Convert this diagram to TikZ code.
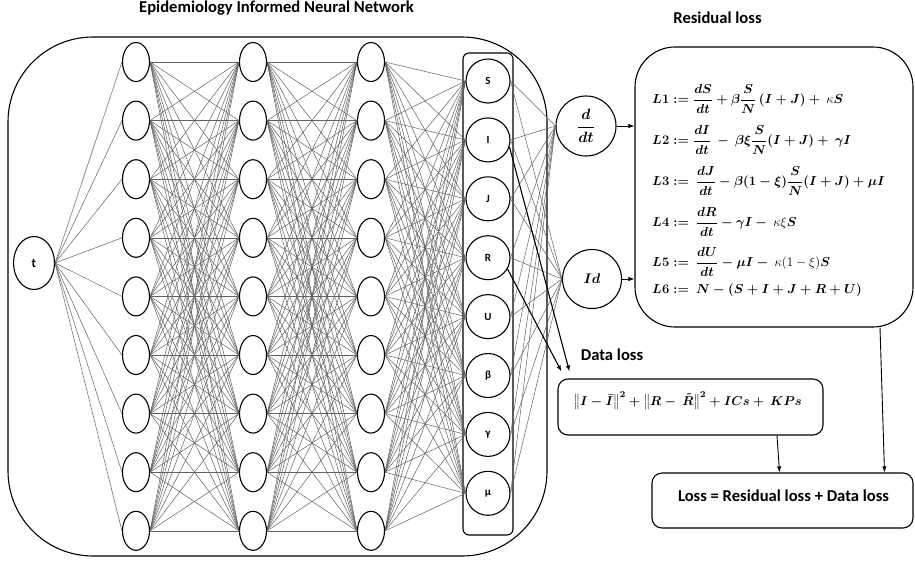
\RequirePackage{fix-cm}
\documentclass[tikz,border=0pt]{standalone}
\usepackage{amsmath,bm}
\usepackage[no-math]{fontspec}
\setmainfont{Carlito}
\usetikzlibrary{arrows.meta,shapes.geometric}
\newcommand{\myk}{\mbox{\unboldmath$\kappa$}}
\newcommand{\myxi}{\mbox{\unboldmath$\xi$}}
\begin{document}
\begin{tikzpicture}[x=1pt,y=-1pt,
 hid/.style={draw, ellipse, line width=1.1pt, minimum width=27pt, minimum height=39pt, inner sep=0pt},
 outn/.style={draw, circle, line width=1.1pt, minimum size=44pt, inner sep=0pt, font=\fontsize{11}{13}\selectfont\bfseries},
 conn/.style={black!62, line width=0.5pt},
 arr/.style={line width=0.9pt, -{Latex[length=6pt,width=4.5pt]}},
 box/.style={draw, line width=1.1pt, inner sep=0pt},
 ttl/.style={anchor=base, inner sep=0pt, font=\fontsize{16.6}{19}\selectfont\bfseries},
 eqn/.style={anchor=west, inner sep=0pt, font=\fontsize{13}{16}\selectfont\boldmath}
]
\useasboundingbox (0,0) rectangle (915,560);
% frames
\node[box, rounded corners=85pt, minimum width=539pt, minimum height=519pt] (net) at (277.5,296.5) {};
\node[box, rounded corners=6pt, minimum width=50pt, minimum height=482pt] (outcol) at (488,294) {};
\node[box, rounded corners=40pt, minimum width=278pt, minimum height=280pt] (res) at (774,187) {};
\node[box, rounded corners=10pt, minimum width=265pt, minimum height=56pt] (data) at (690.5,407) {};
\node[box, rounded corners=10pt, minimum width=261pt, minimum height=55pt] (loss) at (782.5,500.5) {};
% titles
\node[ttl] (tnet) at (276.5,12.7) {Epidemiology Informed Neural Network};
\node[ttl] (tres) at (717.5,23) {Residual loss};
\node[ttl] (tdata) at (612,360) {Data loss};
\node[ttl] (tloss) at (783.5,501) {Loss = Residual loss + Data loss};
% nodes
\node[draw, ellipse, line width=1.1pt, minimum width=41pt, minimum height=53pt, inner sep=0pt, font=\fontsize{13}{15}\selectfont\bfseries] (t) at (34,263) {t};
\foreach \c/\x in {1/136,2/253,3/371}
  \foreach \j in {1,...,9}
    \node[hid] (h\c-\j) at (\x,{62+58.6*(\j-1)}) {};
\foreach \j/\lab in {1/S,2/I,3/J,4/R,5/U,6/β,7/γ,8/μ}
  \node[outn] (o\j) at (488,{81+58.9*(\j-1)}) {\lab};
\node[draw, circle, line width=1.1pt, minimum size=60pt, inner sep=0pt, font=\fontsize{15}{17}\selectfont\boldmath] (dd) at (586,126) {$\dfrac{d}{dt}$};
\node[draw, circle, line width=1.1pt, minimum size=59pt, inner sep=0pt, font=\fontsize{14}{16}\selectfont\boldmath] (id) at (592,279) {$Id$};
% connections
\foreach \i in {1,...,9} \draw[conn] (t.east) -- (h1-\i.west);
\foreach \i in {1,...,9} \foreach \j in {1,...,9} {
  \draw[conn] (h1-\i.east) -- (h2-\j.west);
  \draw[conn] (h2-\i.east) -- (h3-\j.west);
}
\foreach \i in {1,...,9} \foreach \j in {1,...,8} \draw[conn] (h3-\i.east) -- (o\j.west);
\foreach \j in {1,...,8} {
  \draw[conn] (o\j.east) -- (dd.west);
  \draw[conn] (o\j.east) -- (id.west);
}
% equations
\node[eqn] (l1) at (652,99) {$L1 := \dfrac{dS}{dt} + \beta\dfrac{S}{N}\,(I+J) +\ \myk S$};
\node[eqn] (l2) at (652,140) {$L2 := \dfrac{dI}{dt}\ -\ \beta\xi\dfrac{S}{N}(I+J) +\ \gamma I$};
\node[eqn] (l3) at (652,181) {$L3 :=\ \dfrac{dJ}{dt} - \beta(1-\xi)\dfrac{S}{N}(I+J) + \mu I$};
\node[eqn] (l4) at (652,222) {$L4 :=\ \dfrac{dR}{dt} - \gamma I -\ \myk\myxi S$};
\node[eqn] (l5) at (652,262) {$L5 :=\ \dfrac{dU}{dt} - \mu I -\ \mbox{\unboldmath$\kappa(1-\xi)$}S$};
\node[eqn] (l6) at (652,290) {$L6 :=\ N - (S+I+J+R+U)$};
\node[eqn, anchor=center, font=\fontsize{12.8}{15}\selectfont\boldmath] (dl) at (687.5,401) {$\bigl\|I-\bar{I}\bigr\|^2 + \bigl\|R-\ \tilde{R}\bigr\|^2 + ICs +\ KPs$};
% arrows
\draw[arr] (dd.east) -- (dd.east -| res.west);
\draw[arr] (id.east) -- (id.east -| res.west);
\draw[arr, line width=1.1pt] (o2.-18) -- ([xshift=12pt,yshift=7pt]data.north west);
\draw[arr, line width=1.1pt] (o4.-30) -- ([xshift=4pt,yshift=7pt]data.north west);
\draw[arr] ([xshift=106pt]res.south) -- ([xshift=102pt]loss.north);
\draw[arr] ([xshift=86.5pt]data.south) -- ([xshift=-3pt]loss.north);
\end{tikzpicture}
\end{document}
